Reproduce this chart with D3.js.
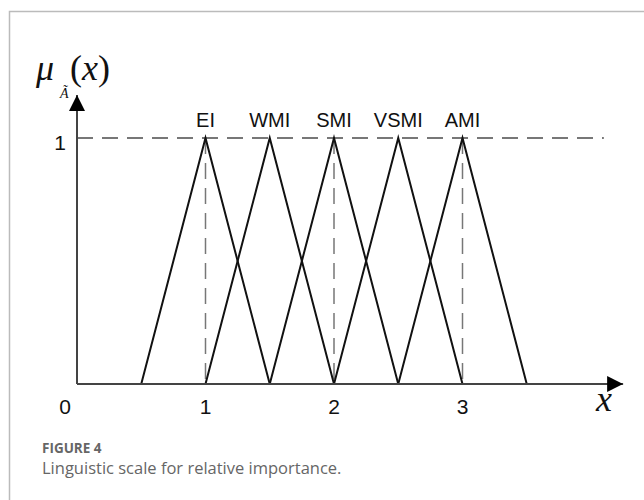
<!DOCTYPE html>
<html>
<head>
<meta charset="utf-8">
<script src="https://cdn.jsdelivr.net/npm/d3@7"></script>
<style>
  body { margin: 0; background: #fff; }
  svg { display: block; }
</style>
</head>
<body>
<script>
// data: fuzzy linguistic terms (triangles centre +/- spread)
var terms = ["EI", "WMI", "SMI", "VSMI", "AMI"];
var centres = [1, 1.5, 2, 2.5, 3];
var spread = 0.5;
var xTicks = [0, 1, 2, 3];
var guideX = [1, 2, 3];

var width = 644, height = 500;

// scales
var x = d3.scaleLinear().domain([0, 4]).range([77, 591]);
var y = d3.scaleLinear().domain([0, 1]).range([384, 138]);

var svg = d3.select("body").append("svg")
    .attr("width", width)
    .attr("height", height);

// frame of the figure panel
svg.append("path")
    .attr("d", "M9.5,500V11.5H644")
    .attr("fill", "none")
    .attr("stroke", "#bbb")
    .attr("stroke-width", 1.5);

// arrow heads
var defs = svg.append("defs");
defs.append("marker")
    .attr("id", "arrow")
    .attr("viewBox", "0 0 10 10")
    .attr("refX", 10).attr("refY", 5)
    .attr("markerWidth", 16).attr("markerHeight", 16)
    .attr("markerUnits", "userSpaceOnUse")
    .attr("orient", "auto")
  .append("path")
    .attr("d", "M0,0L10,5L0,10Z")
    .attr("fill", "#000");

// dashed guide at membership 1
svg.append("line")
    .attr("x1", x(0)).attr("x2", x(4.1))
    .attr("y1", y(1)).attr("y2", y(1))
    .attr("stroke", "#777")
    .attr("stroke-width", 2)
    .attr("stroke-dasharray", "16,9");

// vertical dashed guides
svg.selectAll(".guide")
    .data(guideX)
  .enter().append("line")
    .attr("class", "guide")
    .attr("x1", d => x(d)).attr("x2", d => x(d))
    .attr("y1", y(1)).attr("y2", y(0))
    .attr("stroke", "#777")
    .attr("stroke-width", 1.5)
    .attr("stroke-dasharray", "16,9");

// triangles
var tri = d3.line()
    .x(d => x(d[0]))
    .y(d => y(d[1]));

svg.selectAll(".tri")
    .data(centres)
  .enter().append("path")
    .attr("class", "tri")
    .attr("d", c => tri([[c - spread, 0], [c, 1], [c + spread, 0]]))
    .attr("fill", "none")
    .attr("stroke", "#111")
    .attr("stroke-width", 2)
    .attr("stroke-linejoin", "miter");

// axes
svg.append("line")
    .attr("x1", x(0)).attr("x2", x(4.25))
    .attr("y1", y(0)).attr("y2", y(0))
    .attr("stroke", "#444")
    .attr("stroke-width", 2)
    .attr("marker-end", "url(#arrow)");

svg.append("line")
    .attr("x1", x(0)).attr("x2", x(0))
    .attr("y1", y(0)).attr("y2", y(1.175))
    .attr("stroke", "#444")
    .attr("stroke-width", 2)
    .attr("marker-end", "url(#arrow)");

var sans = "'Liberation Sans', Arial, sans-serif";

// term labels above peaks
svg.selectAll(".term")
    .data(terms)
  .enter().append("text")
    .attr("class", "term")
    .attr("x", (d, i) => x(centres[i]))
    .attr("y", y(1) - 11)
    .attr("text-anchor", "middle")
    .style("font-family", sans)
    .style("font-size", "20px")
    .attr("fill", "#111")
    .text(d => d);

// x tick labels
svg.selectAll(".xtick")
    .data(xTicks)
  .enter().append("text")
    .attr("class", "xtick")
    .attr("x", d => d === 0 ? x(d) - 12 : x(d))
    .attr("y", y(0) + 30)
    .attr("text-anchor", "middle")
    .style("font-family", sans)
    .style("font-size", "21px")
    .attr("fill", "#111")
    .text(d => d);

// y tick label
svg.append("text")
    .attr("x", x(0) - 17)
    .attr("y", y(1) + 12)
    .attr("text-anchor", "middle")
    .style("font-family", sans)
    .style("font-size", "21px")
    .attr("fill", "#111")
    .text("1");

// axis titles
var serif = "'Liberation Serif', 'Times New Roman', serif";
var muLabel = svg.append("text")
    .attr("x", 36).attr("y", 80)
    .style("font-family", serif)
    .style("font-size", "36px")
    .attr("fill", "#111");
muLabel.append("tspan").style("font-style", "italic").text("μ");
muLabel.append("tspan").attr("dx", 16).text("(");
muLabel.append("tspan").style("font-style", "italic").text("x");
muLabel.append("tspan").text(")");

// subscript A with tilde accent (combining character)
svg.append("text")
    .attr("x", 60).attr("y", 98)
    .style("font-family", serif)
    .style("font-style", "italic")
    .style("font-size", "14px")
    .attr("fill", "#111")
    .text("A\u0303");

svg.append("text")
    .attr("x", 604).attr("y", 411)
    .attr("text-anchor", "middle")
    .style("font-family", serif)
    .style("font-style", "italic")
    .style("font-size", "36px")
    .attr("fill", "#111")
    .text("x");

// caption
svg.append("text")
    .attr("x", 42).attr("y", 453)
    .style("font", "bold 13.5px 'Open Sans', sans-serif")
    .attr("fill", "#666")
    .text("FIGURE 4");

svg.append("text")
    .attr("x", 42).attr("y", 474)
    .style("font", "16.5px 'Open Sans', sans-serif")
    .attr("fill", "#666")
    .text("Linguistic scale for relative importance.");
</script>
</body>
</html>
